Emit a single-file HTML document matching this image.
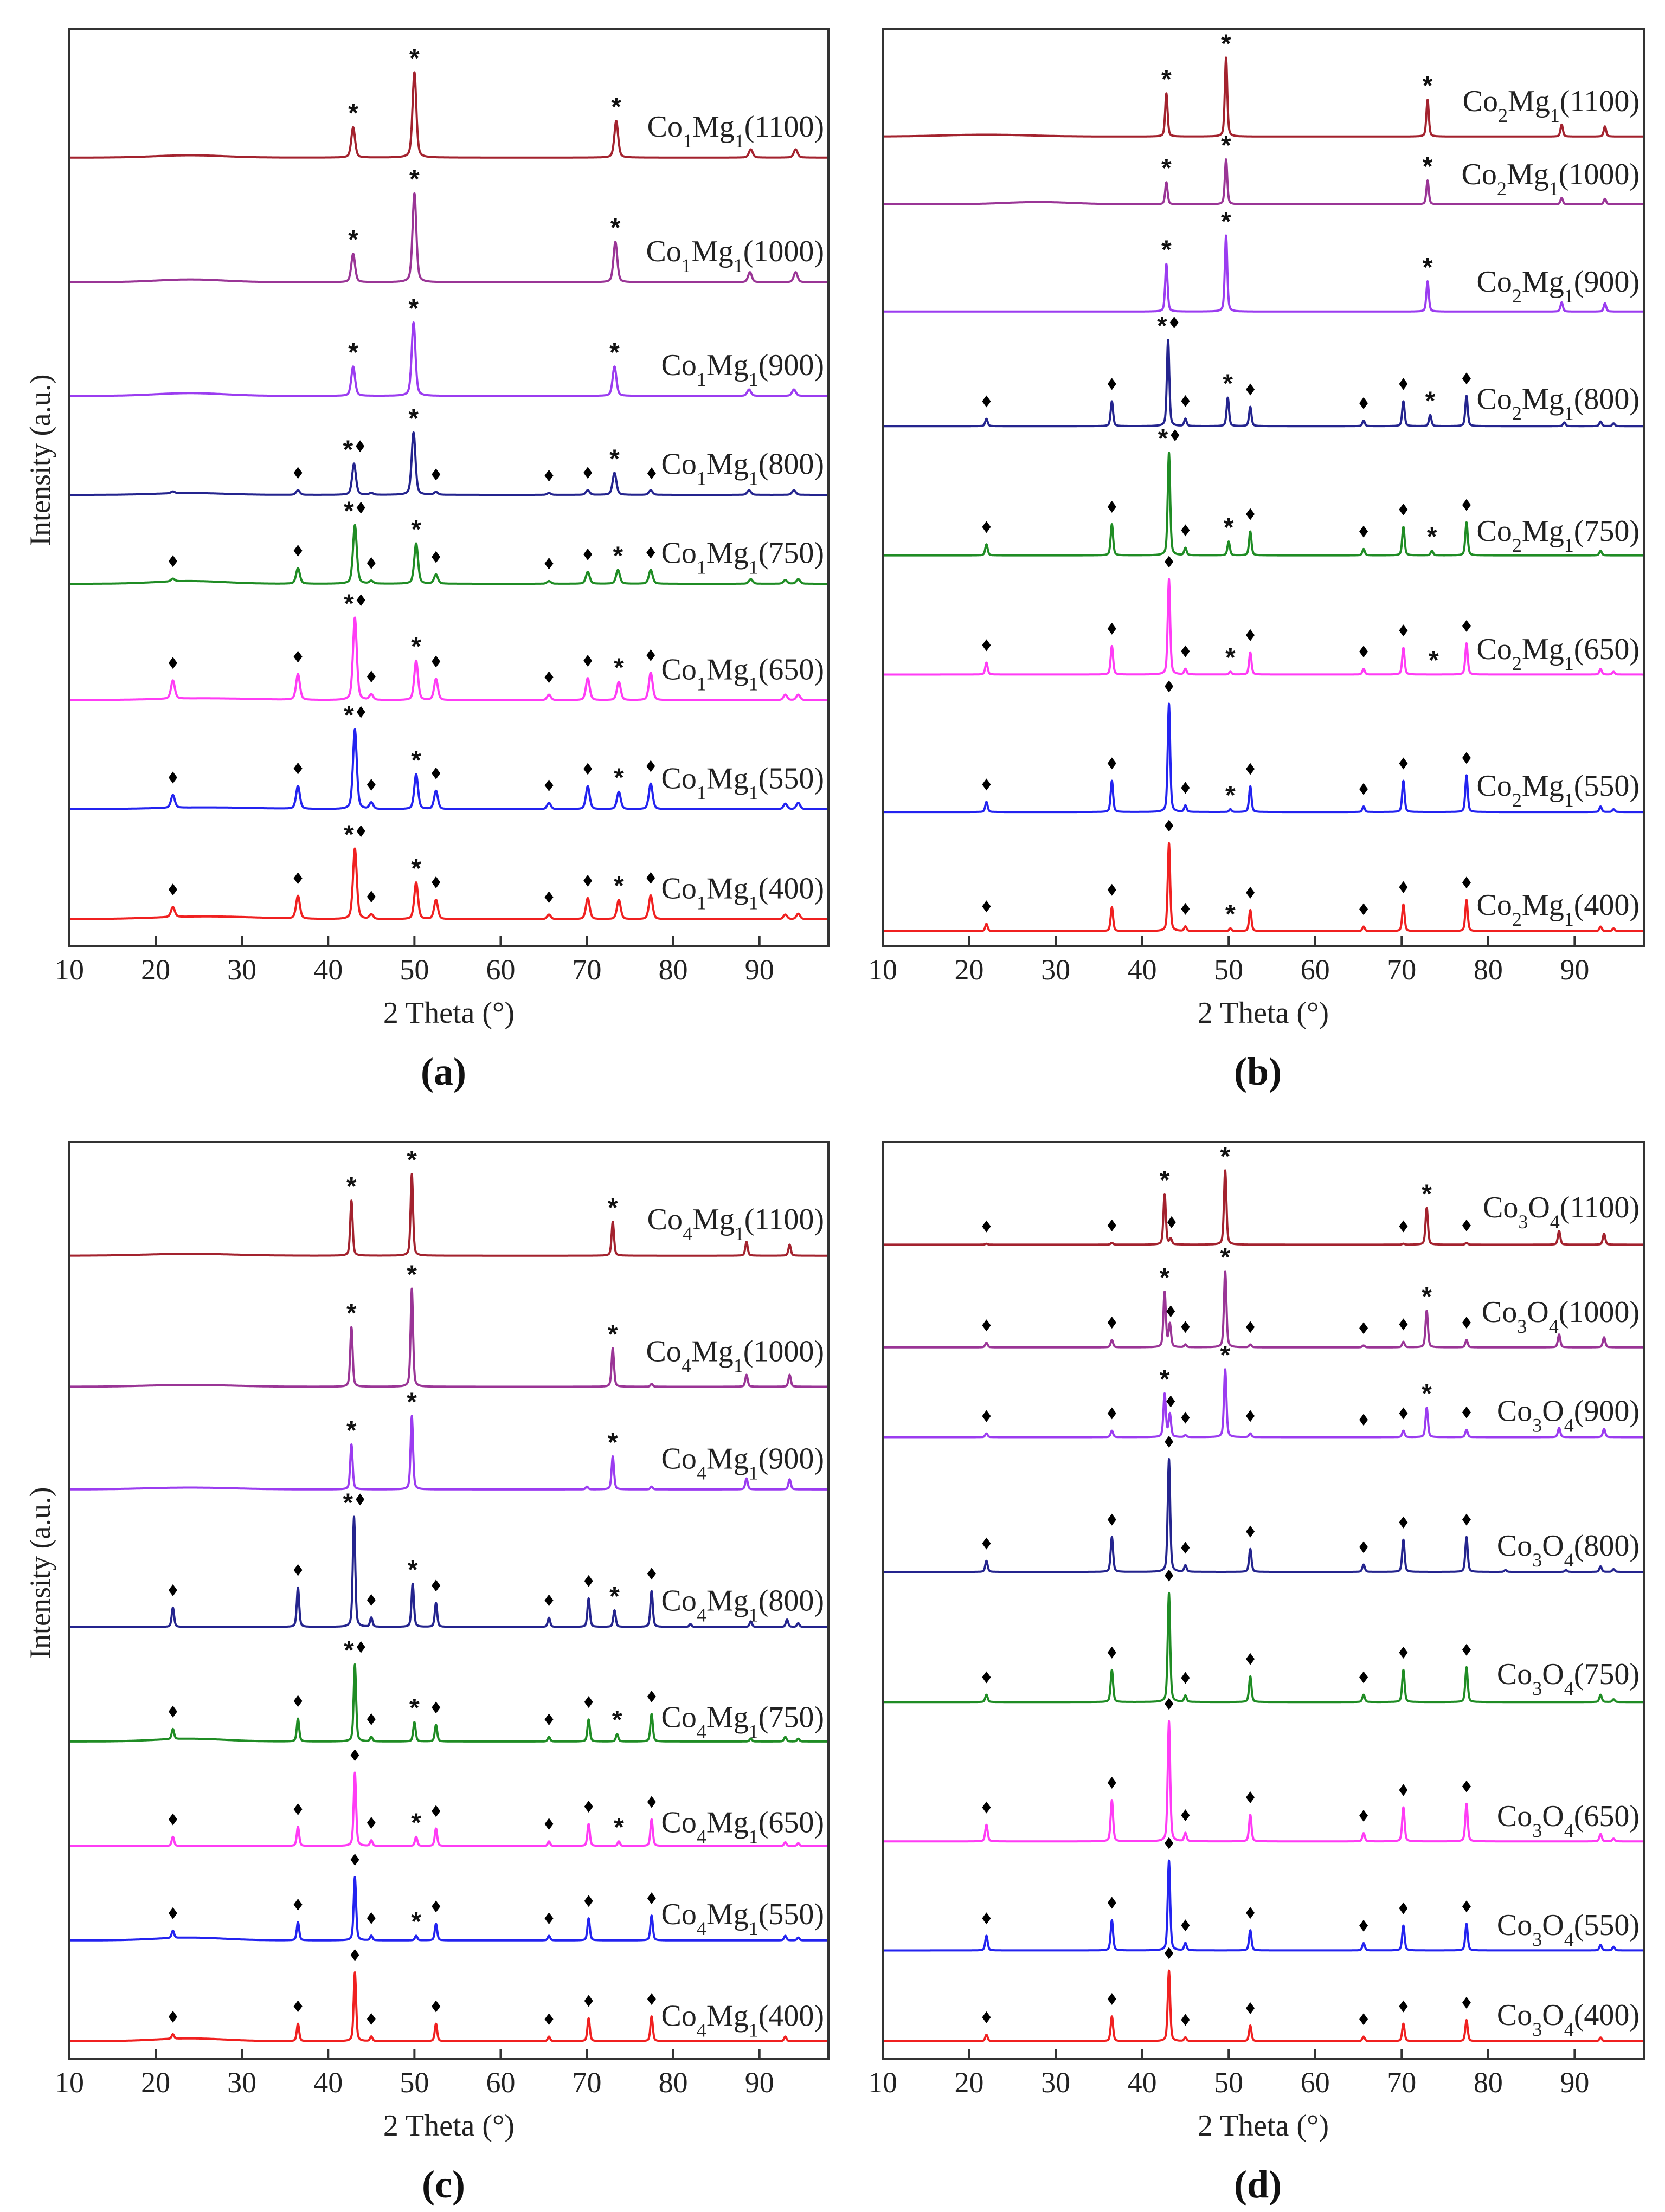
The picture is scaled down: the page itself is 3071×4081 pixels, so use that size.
<!DOCTYPE html>
<html><head><meta charset="utf-8"><style>
html,body{margin:0;padding:0;background:#fff;}
svg{display:block;}
text{font-family:"Liberation Serif","DejaVu Serif",serif;}
</style></head><body>
<svg id="fig" xmlns="http://www.w3.org/2000/svg" width="3071" height="4081" viewBox="0 0 3071 4081">
<rect x="0" y="0" width="3071" height="4081" fill="#fff"/>
</svg>
<script>
// ---------- data ----------
const temps = ["1100","1000","900","800","750","650","550","400"];
const traceColors = ["#a3222e","#9a3596","#9b3cf0","#24248e","#1f8c24","#ff3cf5","#2323f0","#f02020"];
const xTicks = [10,20,30,40,50,60,70,80,90];

const aBase = [86.0,72.4,60.0,49.2,39.5,26.8,14.9,2.9];
const aLabelOff = [3.4,3.4,3.4,3.4,3.4,3.4,3.4,3.4];
const aPeaks = [
 [[24,0.25,4],[42.9,3.3],[50.0,9.3],[73.4,4.0],[89,0.9],[94.2,0.9]],
 [[24,0.3,4],[42.9,3.1],[50.0,9.7],[73.3,4.4],[88.9,1.1],[94.2,1.1]],
 [[24,0.3,4],[42.9,3.2],[49.9,8.0],[73.2,3.2],[88.8,0.7],[94.0,0.7]],
 [[24,0.2,4],[22,0.2],[36.5,0.5],[43.0,3.4],[45,0.2],[49.9,6.8],[52.5,0.3],[65.6,0.2],[70.1,0.5],[73.2,2.4],[77.4,0.5],[88.8,0.5],[94,0.5]],
 [[24,0.3,4],[22,0.3],[36.5,1.7],[43.1,6.4],[45,0.3],[50.2,4.4],[52.5,1.0],[65.6,0.3],[70.1,1.3],[73.6,1.5],[77.4,1.5],[89,0.5],[93,0.4],[94.5,0.5]],
 [[26,0.2,6],[22,2.0],[36.5,2.8],[43.1,9.0],[45,0.6],[50.2,4.3],[52.5,2.3],[65.6,0.6],[70.1,2.4],[73.7,2.0],[77.4,3.0],[93,0.6],[94.5,0.6]],
 [[26,0.2,6],[22,1.4],[36.5,2.5],[43.1,8.7],[45,0.7],[50.2,3.8],[52.5,2.0],[65.6,0.7],[70.1,2.5],[73.7,1.9],[77.4,2.8],[93,0.6],[94.5,0.7]],
 [[26,0.3,6],[22,1.1],[36.5,2.5],[43.1,7.7],[45,0.5],[50.2,4.0],[52.5,2.1],[65.6,0.5],[70.1,2.3],[73.7,2.1],[77.4,2.6],[93,0.5],[94.5,0.6]]
];
const aMarks = [
 [[42.9,'s'],[50,'s'],[73.4,'s']],
 [[42.9,'s'],[50,'s'],[73.3,'s']],
 [[42.9,'s'],[49.9,'s'],[73.2,'s']],
 [[36.5,'d'],[42.3,'s',43],[43.7,'d',43],[49.9,'s'],[52.5,'d'],[65.6,'d'],[70.1,'d'],[73.2,'s'],[77.5,'d']],
 [[22,'d'],[36.5,'d'],[42.4,'s',43.1],[43.8,'d',43.1],[45,'d'],[50.2,'s'],[52.5,'d'],[65.6,'d'],[70.1,'d'],[73.6,'s'],[77.4,'d']],
 [[22,'d'],[36.5,'d'],[42.4,'s',43.1],[43.8,'d',43.1],[45,'d'],[50.2,'s'],[52.5,'d'],[65.6,'d'],[70.1,'d'],[73.7,'s'],[77.4,'d']],
 [[22,'d'],[36.5,'d'],[42.4,'s',43.1],[43.8,'d',43.1],[45,'d'],[50.2,'s'],[52.5,'d'],[65.6,'d'],[70.1,'d'],[73.7,'s'],[77.4,'d']],
 [[22,'d'],[36.5,'d'],[42.4,'s',43.1],[43.8,'d',43.1],[45,'d'],[50.2,'s'],[52.5,'d'],[65.6,'d'],[70.1,'d'],[73.7,'s'],[77.4,'d']]
];

const bBase = [88.3,80.9,69.2,56.7,42.6,29.6,14.6,1.6];
const bLabelOff = [3.9,3.3,3.3,3.0,2.7,2.8,2.9,2.9];
const bPeaks = [
 [[22,0.2,5],[42.8,4.7],[49.7,8.6],[73.0,4.0],[88.5,1.3],[93.5,1.1]],
 [[28,0.25,4],[42.8,2.4],[49.7,4.9],[73.0,2.6],[88.5,0.7],[93.5,0.6]],
 [[42.8,5.2],[49.7,8.3],[73.0,3.3],[88.5,1.0],[93.5,0.9]],
 [[22,0.8],[36.5,2.7],[43.0,9.4],[45,0.8],[49.9,3.1],[52.5,2.1],[65.6,0.6],[70.2,2.7],[73.3,1.2],[77.5,3.3],[88.8,0.4],[93,0.5],[94.5,0.3]],
 [[22,1.2],[36.5,3.4],[43.1,11.2],[45,0.8],[50.0,1.5],[52.5,2.6],[65.6,0.7],[70.2,3.1],[73.5,0.5],[77.5,3.6],[93,0.5]],
 [[22,1.3],[36.5,3.1],[43.1,10.4],[45,0.6],[50.2,0.3],[52.5,2.4],[65.6,0.6],[70.2,2.9],[77.5,3.4],[93,0.6],[94.5,0.3]],
 [[22,1.1],[36.5,3.4],[43.1,11.8],[45,0.7],[50.2,0.3],[52.5,2.8],[65.6,0.6],[70.2,3.4],[77.5,4.0],[93,0.6],[94.5,0.3]],
 [[22,0.8],[36.5,2.6],[43.1,9.6],[45,0.5],[50.2,0.3],[52.5,2.3],[65.6,0.5],[70.2,2.9],[77.5,3.4],[93,0.5],[94.5,0.3]]
];
const bMarks = [
 [[42.8,'s'],[49.7,'s'],[73.0,'s']],
 [[42.8,'s'],[49.7,'s'],[73.0,'s']],
 [[42.8,'s'],[49.7,'s'],[73.0,'s']],
 [[22,'d'],[36.5,'d'],[42.3,'s',43],[43.7,'d',43],[45,'d'],[49.9,'s'],[52.5,'d'],[65.6,'d'],[70.2,'d'],[73.3,'s'],[77.5,'d']],
 [[22,'d'],[36.5,'d'],[42.4,'s',43.1],[43.8,'d',43.1],[45,'d'],[50.0,'s'],[52.5,'d'],[65.6,'d'],[70.2,'d'],[73.5,'s'],[77.5,'d']],
 [[22,'d'],[36.5,'d'],[43.1,'d'],[45,'d'],[50.2,'s'],[52.5,'d'],[65.6,'d'],[70.2,'d'],[73.7,'s'],[77.5,'d']],
 [[22,'d'],[36.5,'d'],[43.1,'d'],[45,'d'],[50.2,'s'],[52.5,'d'],[65.6,'d'],[70.2,'d'],[77.5,'d']],
 [[22,'d'],[36.5,'d'],[43.1,'d'],[45,'d'],[50.2,'s'],[52.5,'d'],[65.6,'d'],[70.2,'d'],[77.5,'d']]
];

const cBase = [87.6,73.3,62.1,47.1,34.6,23.2,12.9,1.9];
const cLabelOff = [4.0,3.9,3.4,2.9,2.7,2.6,2.9,2.8];
const cPeaks = [
 [[24,0.2,5],[42.7,6.0],[49.7,8.9],[73.0,3.7],[88.5,1.5],[93.5,1.2]],
 [[24,0.2,5],[42.7,6.5],[49.7,10.7],[73.0,4.2],[77.5,0.3],[88.5,1.3],[93.5,1.3]],
 [[24,0.2,5],[42.7,4.9],[49.7,8.0],[70,0.3],[73.0,3.6],[77.5,0.3],[88.5,1.2],[93.5,1.1]],
 [[22,2.1],[36.5,4.3],[43.0,12.0],[45,1.0],[49.8,4.7],[52.5,2.6],[65.6,1.0],[70.2,3.1],[73.2,1.8],[77.5,3.9],[82,0.3],[89,0.6],[93.2,0.8],[94.5,0.4]],
 [[24,0.3,4],[22,1.1],[36.5,2.5],[43.1,8.4],[45,0.5],[50.0,2.1],[52.5,1.8],[65.6,0.5],[70.2,2.4],[73.5,0.8],[77.5,3.0],[89,0.3],[93,0.5],[94.5,0.3]],
 [[22,1.0],[36.5,2.1],[43.1,8.0],[45,0.6],[50.2,1.0],[52.5,1.9],[65.6,0.5],[70.2,2.4],[73.7,0.5],[77.5,2.9],[93,0.4],[94.5,0.3]],
 [[24,0.3,4],[22,0.8],[36.5,2.0],[43.1,6.9],[45,0.5],[50.2,0.5],[52.5,1.8],[65.6,0.5],[70.2,2.4],[77.5,2.7],[93,0.5],[94.5,0.3]],
 [[24,0.3,4],[22,0.5],[36.5,1.9],[43.1,7.5],[45,0.5],[52.5,1.9],[65.6,0.5],[70.2,2.5],[77.5,2.7],[93,0.5]]
];
const cMarks = [
 [[42.7,'s'],[49.7,'s'],[73.0,'s']],
 [[42.7,'s'],[49.7,'s'],[73.0,'s']],
 [[42.7,'s'],[49.7,'s'],[73.0,'s']],
 [[22,'d'],[36.5,'d'],[42.3,'s',43],[43.7,'d',43],[45,'d'],[49.8,'s'],[52.5,'d'],[65.6,'d'],[70.2,'d'],[73.2,'s'],[77.5,'d']],
 [[22,'d'],[36.5,'d'],[42.4,'s',43.1],[43.8,'d',43.1],[45,'d'],[50.0,'s'],[52.5,'d'],[65.6,'d'],[70.2,'d'],[73.5,'s'],[77.5,'d']],
 [[22,'d'],[36.5,'d'],[43.1,'d'],[45,'d'],[50.2,'s'],[52.5,'d'],[65.6,'d'],[70.2,'d'],[73.7,'s'],[77.5,'d']],
 [[22,'d'],[36.5,'d'],[43.1,'d'],[45,'d'],[50.2,'s'],[52.5,'d'],[65.6,'d'],[70.2,'d'],[77.5,'d']],
 [[22,'d'],[36.5,'d'],[43.1,'d'],[45,'d'],[52.5,'d'],[65.6,'d'],[70.2,'d'],[77.5,'d']]
];

const dBase = [88.8,77.6,67.8,53.1,38.9,23.7,11.8,1.9];
const dLabelOff = [4.1,3.9,2.9,2.9,3.1,2.8,2.8,2.9];
const dPeaks = [
 [[22,0.1],[36.5,0.2],[42.6,5.5],[43.3,0.6],[49.6,8.1],[70.2,0.1],[72.9,4.0],[77.5,0.2],[88.2,1.5],[93.4,1.2]],
 [[22,0.5],[36.5,0.8],[42.6,6.0],[43.2,2.5],[45,0.3],[49.6,8.3],[52.5,0.3],[65.6,0.2],[70.2,0.6],[72.9,4.0],[77.5,0.8],[88.2,1.4],[93.4,1.1]],
 [[22,0.4],[36.5,0.7],[42.6,4.7],[43.2,2.5],[45,0.2],[49.6,7.4],[52.5,0.4],[70.2,0.7],[72.9,3.2],[77.5,0.8],[88.2,1.0],[93.4,0.9]],
 [[22,1.2],[36.5,3.8],[43.1,12.3],[45,0.7],[52.5,2.5],[65.6,0.8],[70.2,3.5],[77.5,3.8],[82,0.2],[89,0.2],[93,0.6],[94.5,0.3]],
 [[22,0.8],[36.5,3.5],[43.1,11.9],[45,0.7],[52.5,2.8],[65.6,0.8],[70.2,3.5],[77.5,3.8],[93,0.8],[94.5,0.3]],
 [[22,1.8],[36.5,4.5],[43.1,13.1],[45,0.9],[52.5,2.9],[65.6,0.9],[70.2,3.7],[77.5,4.1],[93,0.8],[94.5,0.3]],
 [[22,1.6],[36.5,3.3],[43.1,9.8],[45,0.8],[52.5,2.2],[65.6,0.8],[70.2,2.7],[77.5,2.9],[93,0.6],[94.5,0.4]],
 [[22,0.7],[36.5,2.7],[43.1,7.7],[45,0.4],[52.5,1.7],[65.6,0.5],[70.2,1.9],[77.5,2.3],[93,0.4]]
];
const dOxMarks = [[22,'d'],[36.5,'d'],[43.1,'d'],[45,'d'],[52.5,'d'],[65.6,'d'],[70.2,'d'],[77.5,'d']];
const dMarks = [
 [[22,'d'],[36.5,'d'],[42.6,'s'],[43.4,'d'],[49.6,'s'],[70.2,'d'],[72.9,'s'],[77.5,'d']],
 [[22,'d'],[36.5,'d'],[42.6,'s'],[43.3,'d'],[45,'d'],[49.6,'s'],[52.5,'d'],[65.6,'d'],[70.2,'d'],[72.9,'s'],[77.5,'d']],
 [[22,'d'],[36.5,'d'],[42.6,'s'],[43.3,'d'],[45,'d'],[49.6,'s'],[52.5,'d'],[65.6,'d'],[70.2,'d'],[72.9,'s'],[77.5,'d']],
 dOxMarks, dOxMarks, dOxMarks, dOxMarks, dOxMarks
];

// ---------- drawing ----------
const NS = "http://www.w3.org/2000/svg";
const svg = document.getElementById('fig');
function mk(tag, attrs, parent){
  const e = document.createElementNS(NS, tag);
  for (const k in attrs) e.setAttribute(k, attrs[k]);
  (parent||svg).appendChild(e);
  return e;
}

function drawPanel(cfg){
  const g = mk('g', {});
  
  
  const L = cfg.x, T = cfg.y, W = cfg.w, H = cfg.h, B = T + H, R = L + W;
  const xs = d => L + (d - 10) * W / 88;
  const ys = u => B - u * H / 100;
  const sig = cfg.sigma;
  function curve(peaks, base, d){
    let v = base;
    for (const p of peaks){
      const s = p[2] || sig;
      const z = (d - p[0]) / s;
      if (p[2]) { v += p[1] * Math.exp(-0.5 * z * z); }
      else { v += p[1] * (0.6 * Math.exp(-0.5 * z * z) + 0.4 / (1 + (z/1.2) * (z/1.2))); }
    }
    return v;
  }
  for (let i = 0; i < temps.length; i++){
    const peaks = cfg.peaks[i], base = cfg.base[i];
    let dstr = '';
    for (let d = 10; d <= 98.0001; d += 0.02){
      dstr += (d === 10 ? 'M' : 'L') + xs(d).toFixed(1) + ',' + ys(curve(peaks, base, d)).toFixed(1);
    }
    const p = mk('path', {d: dstr, fill: 'none', stroke: traceColors[i], 'stroke-width': 4, 'stroke-linejoin': 'round'}, g);
    
    
    for (const m of cfg.marks[i]){
      const anchor = (m[2] !== undefined) ? m[2] : m[0];
      const cy = ys(curve(peaks, base, anchor) + 1.9);
      const cx = xs(m[0]);
      if (m[1] === 'd'){
        const poly = mk('polygon', {points: `${cx},${cy-11} ${cx+8},${cy} ${cx},${cy+11} ${cx-8},${cy}`, fill: '#000'}, g);
        
        
      } else {
        const t = mk('text', {x: cx, y: cy + 22, 'text-anchor': 'middle', 'font-size': 48, 'font-weight': 'bold', fill: '#111', style: 'font-family:"Liberation Sans",sans-serif'}, g);
        t.textContent = '*';
        
        
      }
    }
    const ly = ys(base + cfg.labelOff[i]) + 19;
    const lt = mk('text', {x: R - 8, y: ly, 'text-anchor': 'end', 'font-size': 56, fill: '#222'}, g);
    
    
    for (const pt of cfg.formula){
      const ts = mk('tspan', pt[1] ? {'font-size': 36, dy: 20} : {dy: pt[2] || 0}, lt);
      ts.textContent = pt[0];
    }
    const last = mk('tspan', {dy: -20}, lt);
    last.textContent = '(' + temps[i] + ')';
  }
  const fr = mk('rect', {x: L, y: T, width: W, height: H, fill: 'none', stroke: '#333', 'stroke-width': 4}, g);
  
  
  for (const t of xTicks){
    const x = xs(t);
    const tk = mk('line', {x1: x, y1: B, x2: x, y2: B - 18, stroke: '#333', 'stroke-width': 4}, g);
    
    
    const tl = mk('text', {x: x, y: B + 62, 'text-anchor': 'middle', 'font-size': 54, fill: '#222'}, g);
    tl.textContent = String(t);
    
    
  }
  const xt = mk('text', {x: L + W/2, y: B + 142, 'text-anchor': 'middle', 'font-size': 56, fill: '#222'}, g);
  xt.textContent = '2 Theta (\u00B0)';
  
  
  const pl = mk('text', {x: L + W/2 - 10, y: B + 256, 'text-anchor': 'middle', 'font-size': 72, 'font-weight': 'bold', fill: '#111'}, g);
  pl.textContent = '(' + cfg.id + ')';
  
  
  if (cfg.ytitle){
    const cy = T + H * 0.47;
    const yt = mk('text', {x: 0, y: 0, transform: `translate(${L - 36},${cy}) rotate(-90)`, 'text-anchor': 'middle', 'font-size': 54, fill: '#222'}, g);
    yt.textContent = 'Intensity (a.u.)';
    
    
  }
}

drawPanel({id:'a', x:128, y:54, w:1400, h:1691, sigma:0.22, base:aBase, labelOff:aLabelOff, peaks:aPeaks, marks:aMarks, ytitle:true,
  formula:[['Co'],['1',true],['Mg',false,-20],['1',true]]});
drawPanel({id:'b', x:1628, y:54, w:1404, h:1691, sigma:0.14, base:bBase, labelOff:bLabelOff, peaks:bPeaks, marks:bMarks, ytitle:false,
  formula:[['Co'],['2',true],['Mg',false,-20],['1',true]]});
drawPanel({id:'c', x:128, y:2107, w:1400, h:1691, sigma:0.14, base:cBase, labelOff:cLabelOff, peaks:cPeaks, marks:cMarks, ytitle:true,
  formula:[['Co'],['4',true],['Mg',false,-20],['1',true]]});
drawPanel({id:'d', x:1628, y:2107, w:1404, h:1691, sigma:0.14, base:dBase, labelOff:dLabelOff, peaks:dPeaks, marks:dMarks, ytitle:false,
  formula:[['Co'],['3',true],['O',false,-20],['4',true]]});
</script>
</body></html>
